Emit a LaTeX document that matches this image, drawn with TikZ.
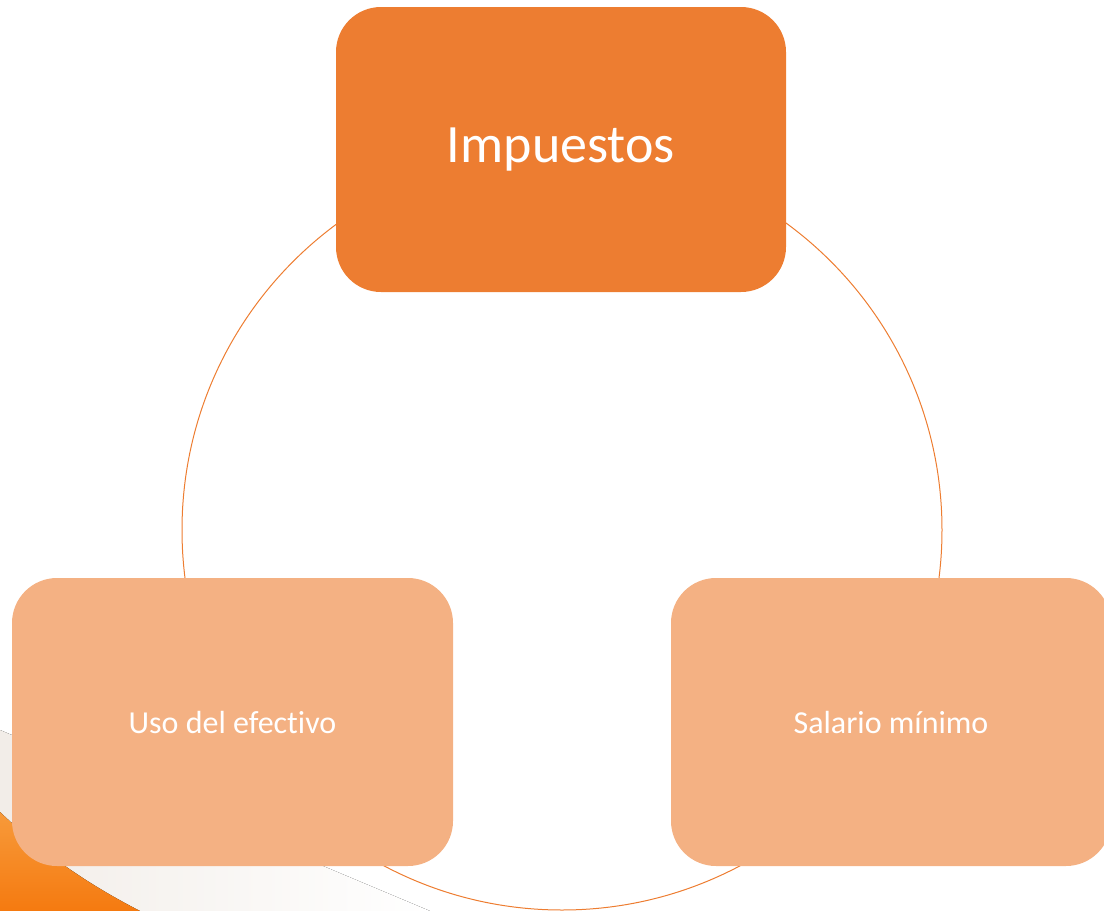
\documentclass[tikz,border=0pt]{standalone}
\usepackage{fontspec}
\setmainfont[Ligatures=NoCommon]{Carlito}
\definecolor{darkor}{HTML}{ED7D31}
\definecolor{lightor}{HTML}{F4B183}
\definecolor{bgor}{HTML}{F57A10}
\definecolor{bgor2}{HTML}{F79A3A}
\definecolor{bggrey}{HTML}{F2EDE8}
\begin{document}
\begin{tikzpicture}[x=1pt,y=-1pt,
  topbox/.style={fill=darkor, rounded corners=45pt, minimum width=450pt, minimum height=285pt, text=white, font=\fontsize{54}{60}\selectfont, inner sep=0pt},
  sidebox/.style={fill=lightor, rounded corners=45pt, minimum width=441pt, minimum height=288pt, text=white, font=\fontsize{32}{36}\selectfont, inner sep=0pt},
  ring/.style={circle, draw=darkor, line width=1pt, minimum size=760pt, inner sep=0pt}]
\useasboundingbox (0,0) rectangle (1104,911);
\begin{scope}
\clip (0,0) rectangle (1104,911);
\fill[left color=bggrey, right color=white] (0,730) -- (0,911) -- (430,911) -- cycle;
\fill[top color=bgor2, bottom color=bgor] (0,812) .. controls (40,850) and (80,880) .. (140,911) -- (0,911) -- cycle;
\node[ring] (c) at (562,530) {};
\node[topbox] (imp) at (561,149.5) {Impuestos};
\node[sidebox] (uso) at (232.5,722) {Uso del efectivo};
\node[sidebox, minimum width=440pt] (sal) at (891,722) {Salario mínimo};
\end{scope}
\end{tikzpicture}
\end{document}
